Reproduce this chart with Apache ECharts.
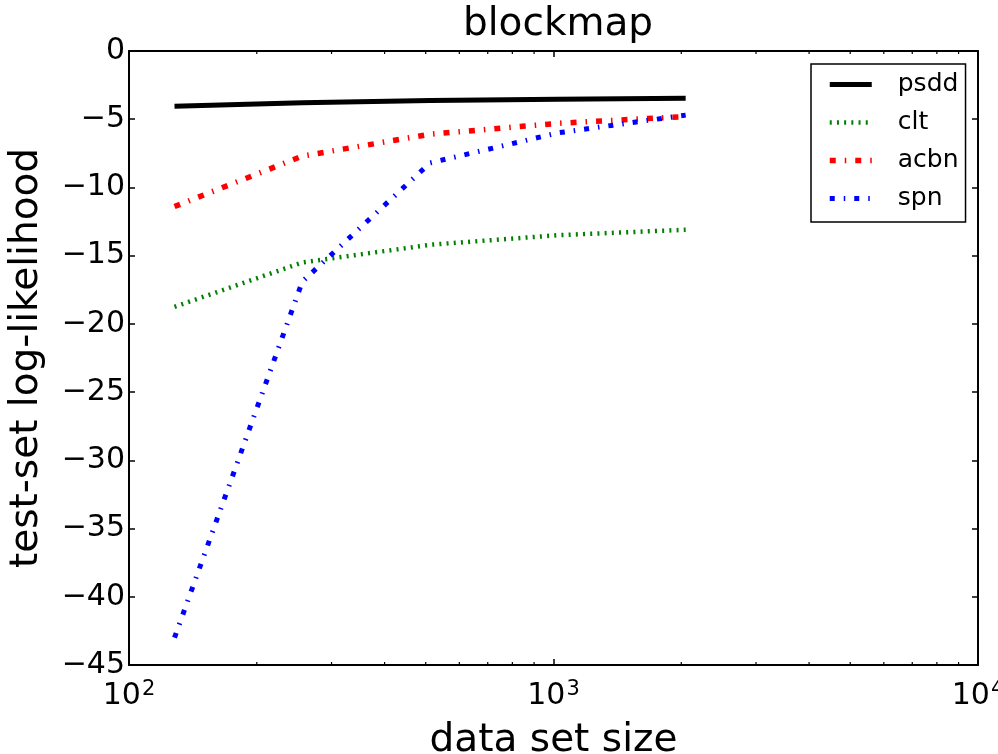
<!DOCTYPE html>
<html>
<head>
<meta charset="utf-8">
<script src="https://cdn.jsdelivr.net/npm/echarts@6/dist/echarts.min.js"></script>
<style>html,body{margin:0;padding:0;background:#fff;overflow:hidden}#c{width:998px;height:754px}</style>
</head>
<body>
<div id="c"></div>
<script>
const titleText = 'blockmap';
const xName = 'data set size';
const yName = 'test-set log-likelihood';
const sizes = [128, 256, 512, 1024, 2048];
const psdd = [-4.05, -3.8, -3.62, -3.53, -3.47];
const clt = [-18.75, -15.5, -14.2, -13.5, -13.1];
const acbn = [-11.4, -7.7, -6.1, -5.3, -4.8];
const spn = [-43.0, -16.9, -8.2, -6.0, -4.7];
const seriesNames = ['psdd', 'clt', 'acbn', 'spn'];
const minorTickValues = [200, 300, 400, 500, 600, 700, 800, 900, 2000, 3000, 4000, 5000, 6000, 7000, 8000, 9000];
const xMin = 100, xMax = 10000, yMin = -45, yMax = 0, yStep = 5;

const FONT = 'DejaVu Sans';
const chart = echarts.init(document.getElementById('c'), null, {renderer: 'canvas'});

function pairs(vals) { return sizes.map((s, i) => [s, vals[i]]); }
function fmtY(v) { return v < 0 ? '\u2212' + (-v) : String(v); }
function fmtX(v) {
  const e = Math.round(Math.log10(v));
  return '{b|10}{s|' + e + '}';
}

const styles = {
  psdd: {color: '#000000', width: 5, type: 'solid'},
  clt: {color: '#008000', width: 4.5, type: [2, 5.2]},
  acbn: {color: '#ff0000', width: 5.5, type: [6, 9, 1.5, 9]},
  spn: {color: '#0000ff', width: 5, type: [5, 9, 1.5, 9]}
};

const axisLine = {show: true, onZero: false, lineStyle: {color: '#000', width: 2}};
const majorTick = {show: true, inside: true, length: 6, lineStyle: {color: '#000', width: 1.5}};

const option = {
  animation: false,
  backgroundColor: '#fff',
  textStyle: {fontFamily: FONT},
  title: {
    text: titleText, left: 458, top: 0,
    textStyle: {fontFamily: FONT, fontSize: 39, fontWeight: 'normal', color: '#000'}
  },
  grid: {left: 129, right: 20, top: 51, bottom: 89, containLabel: false, outerBoundsMode: 'none'},
  legend: {
    data: seriesNames.map(n => ({
      name: n,
      itemStyle: {opacity: 0},
      lineStyle: {color: styles[n].color, width: styles[n].width, type: styles[n].type, cap: 'butt'}
    })),
    orient: 'vertical',
    left: 811, top: 64,
    padding: [8, 7, 11, 16],
    itemWidth: 42, itemHeight: 14, itemGap: 13,
    backgroundColor: '#fff', borderColor: '#000', borderWidth: 1.5, borderRadius: 0,
    textStyle: {fontFamily: FONT, fontSize: 25, color: '#000', padding: [0, 0, 0, 21]}
  },
  xAxis: [{
    type: 'log', logBase: 10, min: xMin, max: xMax, position: 'bottom',
    name: xName, nameLocation: 'middle', nameGap: 56,
    nameTextStyle: {fontFamily: FONT, fontSize: 39, color: '#000'},
    axisLine: axisLine, axisTick: majorTick, splitLine: {show: false},
    axisLabel: {
      margin: 14, color: '#000', formatter: fmtX,
      rich: {
        b: {fontFamily: FONT, fontSize: 30, color: '#000'},
        s: {fontFamily: FONT, fontSize: 21, color: '#000', verticalAlign: 'top', padding: [0, 0, 14, 1]}
      }
    }
  }, {
    type: 'log', logBase: 10, min: xMin, max: xMax, position: 'top',
    axisLine: axisLine, axisTick: majorTick, splitLine: {show: false}, axisLabel: {show: false}
  }],
  yAxis: [{
    type: 'value', min: yMin, max: yMax, interval: yStep, position: 'left',
    name: yName, nameLocation: 'middle', nameGap: 83, nameRotate: 90,
    nameTextStyle: {fontFamily: FONT, fontSize: 39, color: '#000'},
    axisLine: axisLine, axisTick: majorTick, splitLine: {show: false},
    axisLabel: {margin: 4, color: '#000', fontFamily: FONT, fontSize: 30, formatter: fmtY}
  }, {
    type: 'value', min: yMin, max: yMax, interval: yStep, position: 'right',
    axisLine: axisLine, axisTick: majorTick, splitLine: {show: false}, axisLabel: {show: false}
  }],
  series: [
    {name: 'psdd', type: 'line', data: pairs(psdd), symbol: 'none', showSymbol: false, z: 3,
     lineStyle: styles.psdd, itemStyle: {color: styles.psdd.color}},
    {name: 'clt', type: 'line', data: pairs(clt), symbol: 'none', showSymbol: false, z: 4,
     lineStyle: Object.assign({cap: 'butt'}, styles.clt), itemStyle: {color: styles.clt.color}},
    {name: 'acbn', type: 'line', data: pairs(acbn), symbol: 'none', showSymbol: false, z: 5,
     lineStyle: Object.assign({cap: 'butt'}, styles.acbn), itemStyle: {color: styles.acbn.color}},
    {name: 'spn', type: 'line', data: pairs(spn), symbol: 'none', showSymbol: false, z: 6,
     lineStyle: Object.assign({cap: 'butt'}, styles.spn), itemStyle: {color: styles.spn.color}},
    {
      name: 'minorTicks', type: 'custom', silent: true, z: 10,
      data: minorTickValues.map(v => [v, yMin]),
      renderItem: function (params, api) {
        const x = api.coord([api.value(0), yMin])[0];
        const cs = params.coordSys;
        const st = {stroke: '#000', lineWidth: 1.2};
        return {
          type: 'group',
          children: [
            {type: 'line', shape: {x1: x, y1: cs.y + cs.height, x2: x, y2: cs.y + cs.height - 3}, style: st},
            {type: 'line', shape: {x1: x, y1: cs.y, x2: x, y2: cs.y + 3}, style: st}
          ]
        };
      }
    }
  ]
};
chart.setOption(option);
</script>
</body>
</html>
